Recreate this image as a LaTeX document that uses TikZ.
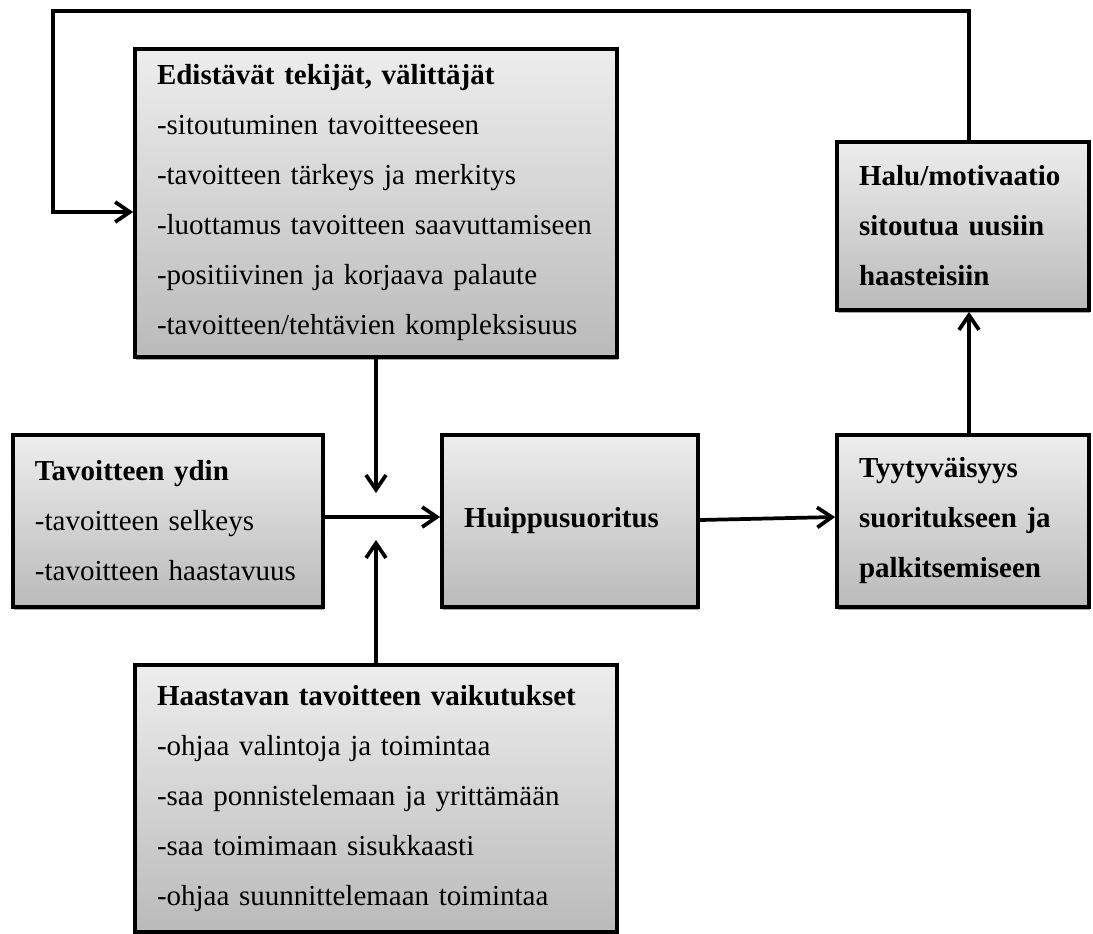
\documentclass[tikz,border=0pt]{standalone}
\usepackage{fontspec}
\setmainfont{Liberation Serif}
\usetikzlibrary{arrows.meta,shadows}
\begin{document}
\begin{tikzpicture}[x=0.75pt,y=-0.75pt,
  box/.style={draw=black, line width=2.8pt, top color=black!7, bottom color=black!27,
    drop shadow={shadow xshift=0.8pt, shadow yshift=-2.4pt, fill=black!35, opacity=1},
    align=left, inner xsep=16.5pt, inner ysep=0pt,
    font=\fontsize{21.75pt}{37.5pt}\selectfont, anchor=center},
  link/.style={line width=2.8pt, -{Straight Barb[length=11pt,width=15pt]}},
]
\useasboundingbox (0,0) rectangle (1093,933);

% boxes
\node[box, text width=328.5pt, minimum height=231pt] (edist) at (376,203)
  {\textbf{Edistävät tekijät, välittäjät}\\
   -sitoutuminen tavoitteeseen\\
   -tavoitteen tärkeys ja merkitys\\
   -luottamus tavoitteen saavuttamiseen\\
   -positiivinen ja korjaava palaute\\
   -tavoitteen/tehtävien kompleksisuus};

\node[box, text width=199.5pt, minimum height=129pt] (ydin) at (168,521)
  {\textbf{Tavoitteen ydin}\\
   -tavoitteen selkeys\\
   -tavoitteen haastavuus};

\node[box, text width=159pt, minimum height=129pt] (huippu) at (570,521)
  {\textbf{Huippusuoritus}};

\node[box, text width=156pt, minimum height=129pt] (tyyty) at (963,521)
  {\textbf{Tyytyväisyys}\\
   \textbf{suoritukseen ja}\\
   \textbf{palkitsemiseen}};

\node[box, text width=156pt, minimum height=126pt] (halu) at (963,226)
  {\textbf{Halu/motivaatio}\\
   \textbf{sitoutua uusiin}\\
   \textbf{haasteisiin}};

\node[box, text width=328.5pt, minimum height=200.25pt] (haast) at (376,798.5)
  {\textbf{Haastavan tavoitteen vaikutukset}\\
   -ohjaa valintoja ja toimintaa\\
   -saa ponnistelemaan ja yrittämään\\
   -saa toimimaan sisukkaasti\\
   -ohjaa suunnittelemaan toimintaa};

% connector end points
\coordinate (loopTL) at (53,11);
\coordinate (loopBL) at (53,212);
\coordinate (downEnd) at (376,493);
\coordinate (upEnd) at (376,540);

% connectors
\draw[link] ([xshift=4.5pt]halu.north) |- (loopTL) -- (loopBL) -- (loopBL -| edist.west);
\draw[link] (edist.south) -- (downEnd);
\draw[link] (haast.north) -- (upEnd);
\draw[link] ([yshift=3pt]ydin.east) -- ([yshift=3pt]huippu.west);
\draw[link] ([yshift=0.75pt]huippu.east) -- ([yshift=3pt]tyyty.west);
\draw[link] ([xshift=4.5pt]tyyty.north) -- ([xshift=4.5pt]halu.south);
\end{tikzpicture}
\end{document}
